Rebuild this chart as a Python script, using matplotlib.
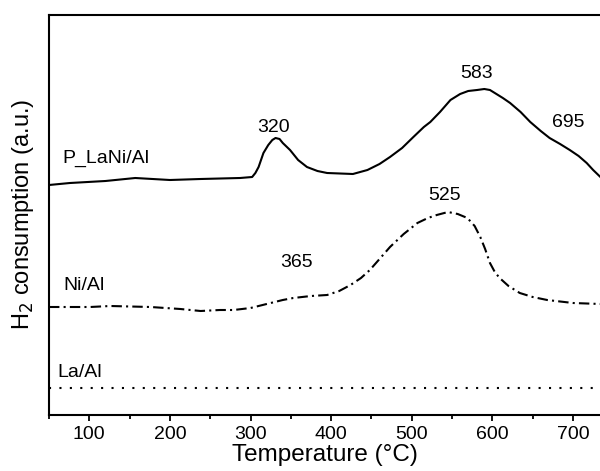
import numpy as np
import matplotlib
matplotlib.use("Agg")
import matplotlib.pyplot as plt
from matplotlib.ticker import MultipleLocator

plt.rcParams["font.family"] = ["Liberation Sans", "DejaVu Sans"]

# TPR profiles (temperature in °C, signal in a.u.)
p_lani_temp = [50, 76, 120, 157, 200, 238, 287, 302, 306, 310, 316, 322, 327, 331,
               336, 340, 349, 359, 370, 383, 395, 427, 445, 460, 473, 488, 502,
               515, 523, 535, 548, 560, 570, 581, 590, 597, 605, 613, 622, 635,
               647, 660, 671, 684, 696, 707, 717, 725, 734]
p_lani_sig = [229, 231, 233, 236, 234, 235, 236, 237, 241, 247, 261, 269, 274, 276,
              275, 271, 264, 254, 247, 243, 241, 240, 244, 250, 257, 266, 277,
              287, 292, 302, 314, 320, 323, 324, 325, 324, 320, 316, 311, 302,
              292, 283, 276, 270, 264, 258, 251, 244, 237]

ni_temp = [50, 101, 126, 176, 213, 238, 262, 279, 300, 320, 340, 353, 375, 395,
           410, 424, 437, 448, 460, 473, 490, 507, 520, 531, 545, 557, 569, 578,
           585, 591, 597, 603, 609, 620, 634, 650, 668, 700, 734]
ni_sig = [107, 107, 108, 107, 105, 103, 104, 104, 106, 110, 114, 116, 118, 119,
          123, 129, 136, 144, 155, 167, 180, 191, 196, 199, 202, 200, 196, 188,
          177, 165, 151, 142, 136, 128, 121, 117, 114, 111, 110]

la_temp = [50, 734]
la_sig = [26, 26]

peak_labels = ["320", "583", "695", "525", "365"]
peak_x = [329, 580, 694, 541, 357]
peak_y = [282, 336, 287, 214, 147]

sample_names = ["P_LaNi/Al", "Ni/Al", "La/Al"]
name_x = [67, 68, 60]
name_y = [251, 124, 37]

fig = plt.figure(figsize=(6, 4.71), dpi=100)
ax = fig.add_axes([49 / 600, (471 - 414.5) / 471, 1 - 49 / 600, (414.5 - 15) / 471])

ax.plot(p_lani_temp, p_lani_sig, color="black", lw=1.5, ls="-")
ax.plot(ni_temp, ni_sig, color="black", lw=1.5, ls=(0, (5, 2, 1, 2)))
ax.plot(la_temp, la_sig, color="black", lw=1.5, ls=(0, (1, 4)))

for lab, x, y in zip(peak_labels, peak_x, peak_y):
    ax.text(x, y, lab, ha="center", va="baseline", fontsize=14)
for lab, x, y in zip(sample_names, name_x, name_y):
    ax.text(x, y, lab, ha="left", va="baseline", fontsize=14)

ax.set_xlim(50, 733.5)
ax.set_ylim(-0.5, 399)
ax.xaxis.set_major_locator(MultipleLocator(100))
ax.xaxis.set_minor_locator(MultipleLocator(50))
ax.tick_params(axis="x", which="major", direction="out", length=4, width=1.3,
               labelsize=14, pad=4)
ax.tick_params(axis="x", which="minor", direction="out", length=3, width=1.3)
ax.set_yticks([])

for side in ["left", "bottom", "top"]:
    ax.spines[side].set_linewidth(1.5)
ax.spines["right"].set_visible(False)

ax.set_xlabel("Temperature (°C)", fontsize=17.5, labelpad=1)
ax.set_ylabel("H$_2$ consumption (a.u.)", fontsize=17, labelpad=9)

fig.savefig("out.png", dpi=100)
